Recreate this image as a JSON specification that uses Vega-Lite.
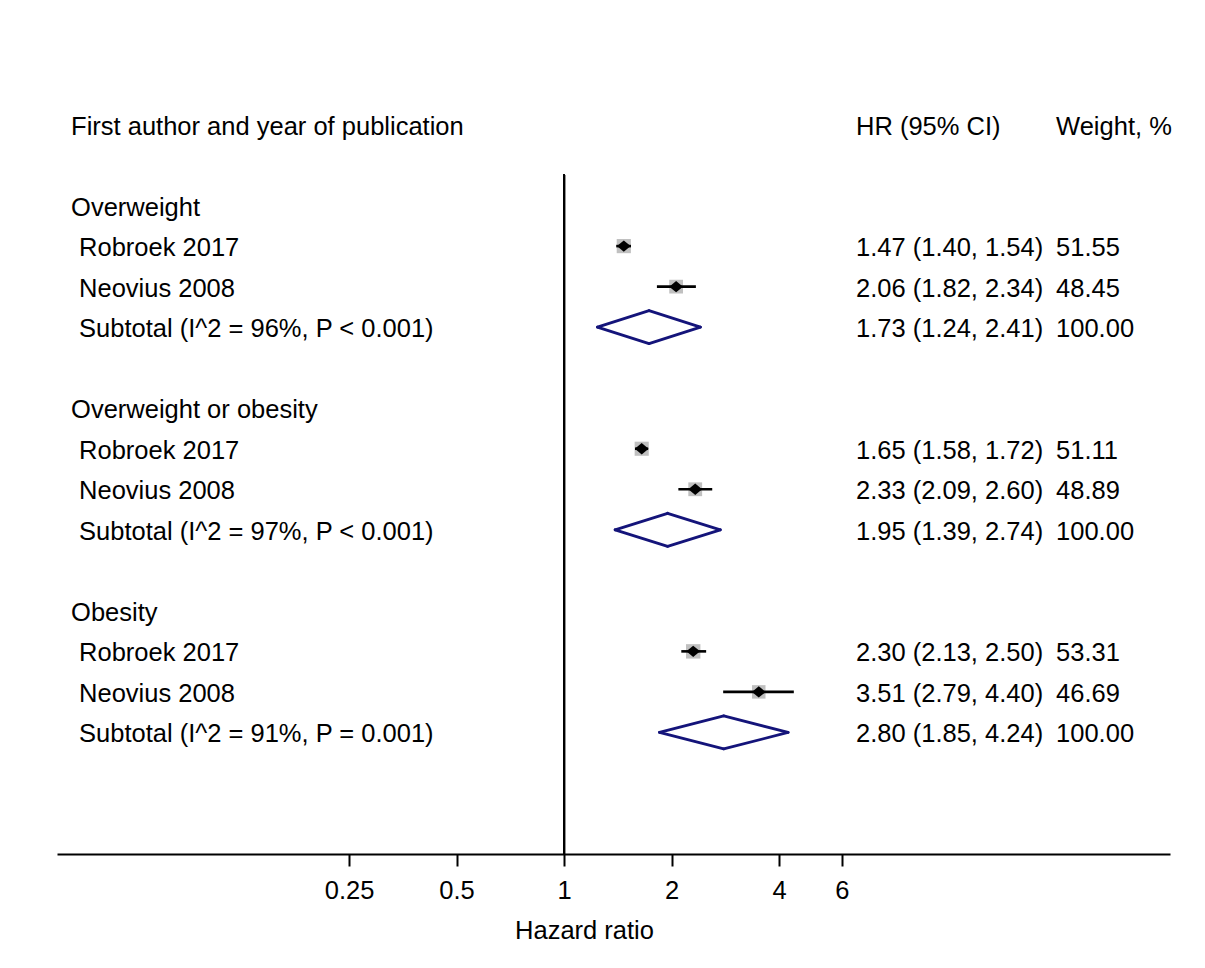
{
  "$schema": "https://vega.github.io/schema/vega-lite/v6.json",
  "width": 1113,
  "height": 770,
  "autosize": {"type": "none"},
  "padding": {"left": 57, "top": 84, "right": 35, "bottom": 114},
  "background": "white",
  "config": {
    "view": {"stroke": null},
    "text": {"font": "Liberation Sans", "fontSize": 25.5, "color": "black"},
    "axisX": {
      "labelFont": "Liberation Sans", "labelFontSize": 25.5, "labelColor": "black",
      "titleFont": "Liberation Sans", "titleFontSize": 25.5, "titleFontWeight": "normal", "titleColor": "black",
      "domainColor": "black", "domainWidth": 2, "tickColor": "black", "tickWidth": 2, "tickSize": 12,
      "labelPadding": 12, "grid": false
    }
  },
  "data": {
    "values": [
      {"row": 0, "kind": "header", "label": "First author and year of publication", "ci_text": "HR (95% CI)", "weight_text": "Weight, %"},
      {"row": 2, "kind": "group", "label": "Overweight"},
      {"row": 3, "kind": "study", "label": "Robroek 2017", "hr": 1.47, "lo": 1.40, "hi": 1.54, "weight": 51.55, "ci_text": "1.47 (1.40, 1.54)", "weight_text": "51.55"},
      {"row": 4, "kind": "study", "label": "Neovius 2008", "hr": 2.06, "lo": 1.82, "hi": 2.34, "weight": 48.45, "ci_text": "2.06 (1.82, 2.34)", "weight_text": "48.45"},
      {"row": 5, "kind": "subtotal", "label": "Subtotal (I^2 = 96%, P < 0.001)", "hr": 1.73, "lo": 1.24, "hi": 2.41, "weight": 100, "ci_text": "1.73 (1.24, 2.41)", "weight_text": "100.00"},
      {"row": 7, "kind": "group", "label": "Overweight or obesity"},
      {"row": 8, "kind": "study", "label": "Robroek 2017", "hr": 1.65, "lo": 1.58, "hi": 1.72, "weight": 51.11, "ci_text": "1.65 (1.58, 1.72)", "weight_text": "51.11"},
      {"row": 9, "kind": "study", "label": "Neovius 2008", "hr": 2.33, "lo": 2.09, "hi": 2.60, "weight": 48.89, "ci_text": "2.33 (2.09, 2.60)", "weight_text": "48.89"},
      {"row": 10, "kind": "subtotal", "label": "Subtotal (I^2 = 97%, P < 0.001)", "hr": 1.95, "lo": 1.39, "hi": 2.74, "weight": 100, "ci_text": "1.95 (1.39, 2.74)", "weight_text": "100.00"},
      {"row": 12, "kind": "group", "label": "Obesity"},
      {"row": 13, "kind": "study", "label": "Robroek 2017", "hr": 2.30, "lo": 2.13, "hi": 2.50, "weight": 53.31, "ci_text": "2.30 (2.13, 2.50)", "weight_text": "53.31"},
      {"row": 14, "kind": "study", "label": "Neovius 2008", "hr": 3.51, "lo": 2.79, "hi": 4.40, "weight": 46.69, "ci_text": "3.51 (2.79, 4.40)", "weight_text": "46.69"},
      {"row": 15, "kind": "subtotal", "label": "Subtotal (I^2 = 91%, P = 0.001)", "hr": 2.80, "lo": 1.85, "hi": 4.24, "weight": 100, "ci_text": "2.80 (1.85, 4.24)", "weight_text": "100.00"}
    ]
  },
  "encoding": {
    "y": {"field": "row", "type": "quantitative", "scale": {"domain": [-1, 18], "reverse": true, "nice": false, "zero": false}, "axis": null}
  },
  "layer": [
    {
      "transform": [{"filter": "datum.kind == 'study'"}],
      "mark": {"type": "point", "shape": "square", "filled": true, "color": "#c0c0c0", "opacity": 1, "strokeWidth": 0},
      "encoding": {
        "x": {"field": "hr", "type": "quantitative", "title": "Hazard ratio",
              "scale": {"type": "log", "domain": [0.03803, 49.76], "nice": false},
              "axis": {"values": [0.25, 0.5, 1, 2, 4, 6], "format": "~g", "title": "Hazard ratio", "titleX": 527, "titleY": 84, "titleBaseline": "alphabetic", "titleAlign": "center", "labelFlush": false, "labelOverlap": false}},
        "size": {"field": "weight", "type": "quantitative", "scale": {"domain": [0, 100], "range": [0, 390]}, "legend": null}
      }
    },
    {
      "mark": {"type": "rule", "color": "black", "strokeWidth": 2},
      "encoding": {
        "x": {"datum": 1, "type": "quantitative", "scale": {"type": "log", "domain": [0.03803, 49.76], "nice": false}},
        "y": {"datum": 1.24},
        "y2": {"datum": 18}
      }
    },
    {
      "transform": [{"filter": "datum.kind == 'study'"}],
      "mark": {"type": "rule", "color": "black", "strokeWidth": 2.6},
      "encoding": {
        "x": {"field": "lo", "type": "quantitative", "title": "Hazard ratio", "scale": {"type": "log", "domain": [0.03803, 49.76], "nice": false}},
        "x2": {"field": "hi"}
      }
    },
    {
      "transform": [{"filter": "datum.kind == 'study'"}],
      "mark": {"type": "point", "shape": "M-1.2,0L0,-1L1.2,0L0,1Z", "filled": true, "color": "black", "opacity": 1, "size": 130, "strokeWidth": 0},
      "encoding": {
        "x": {"field": "hr", "type": "quantitative", "title": "Hazard ratio", "scale": {"type": "log", "domain": [0.03803, 49.76], "nice": false}}
      }
    },
    {
      "transform": [{"filter": "datum.kind == 'subtotal'"}],
      "mark": {"type": "rule", "color": "#14147a", "strokeWidth": 2.8, "strokeCap": "round", "y2Offset": -16.5},
      "encoding": {
        "x": {"field": "lo", "type": "quantitative", "title": "Hazard ratio", "scale": {"type": "log", "domain": [0.03803, 49.76], "nice": false}},
        "x2": {"field": "hr"},
        "y2": {"field": "row"}
      }
    },
    {
      "transform": [{"filter": "datum.kind == 'subtotal'"}],
      "mark": {"type": "rule", "color": "#14147a", "strokeWidth": 2.8, "strokeCap": "round", "y2Offset": 16.5},
      "encoding": {
        "x": {"field": "lo", "type": "quantitative", "title": "Hazard ratio", "scale": {"type": "log", "domain": [0.03803, 49.76], "nice": false}},
        "x2": {"field": "hr"},
        "y2": {"field": "row"}
      }
    },
    {
      "transform": [{"filter": "datum.kind == 'subtotal'"}],
      "mark": {"type": "rule", "color": "#14147a", "strokeWidth": 2.8, "strokeCap": "round", "yOffset": -16.5},
      "encoding": {
        "x": {"field": "hr", "type": "quantitative", "title": "Hazard ratio", "scale": {"type": "log", "domain": [0.03803, 49.76], "nice": false}},
        "x2": {"field": "hi"},
        "y2": {"field": "row"}
      }
    },
    {
      "transform": [{"filter": "datum.kind == 'subtotal'"}],
      "mark": {"type": "rule", "color": "#14147a", "strokeWidth": 2.8, "strokeCap": "round", "yOffset": 16.5},
      "encoding": {
        "x": {"field": "hr", "type": "quantitative", "title": "Hazard ratio", "scale": {"type": "log", "domain": [0.03803, 49.76], "nice": false}},
        "x2": {"field": "hi"},
        "y2": {"field": "row"}
      }
    },
    {
      "transform": [{"filter": "datum.kind == 'header' || datum.kind == 'group'"}],
      "mark": {"type": "text", "align": "left", "baseline": "middle", "dy": 2},
      "encoding": {
        "x": {"datum": 0.04164, "type": "quantitative", "scale": {"type": "log", "domain": [0.03803, 49.76], "nice": false}},
        "text": {"field": "label"}
      }
    },
    {
      "transform": [{"filter": "datum.kind == 'study' || datum.kind == 'subtotal'"}],
      "mark": {"type": "text", "align": "left", "baseline": "middle", "dy": 2},
      "encoding": {
        "x": {"datum": 0.04384, "type": "quantitative", "scale": {"type": "log", "domain": [0.03803, 49.76], "nice": false}},
        "text": {"field": "label"}
      }
    },
    {
      "transform": [{"filter": "isValid(datum.ci_text)"}],
      "mark": {"type": "text", "align": "left", "baseline": "middle", "dy": 2},
      "encoding": {
        "x": {"datum": 6.571, "type": "quantitative", "scale": {"type": "log", "domain": [0.03803, 49.76], "nice": false}},
        "text": {"field": "ci_text"}
      }
    },
    {
      "transform": [{"filter": "isValid(datum.weight_text)"}],
      "mark": {"type": "text", "align": "left", "baseline": "middle", "dy": 2},
      "encoding": {
        "x": {"datum": 23.87, "type": "quantitative", "scale": {"type": "log", "domain": [0.03803, 49.76], "nice": false}},
        "text": {"field": "weight_text"}
      }
    }
  ]
}
